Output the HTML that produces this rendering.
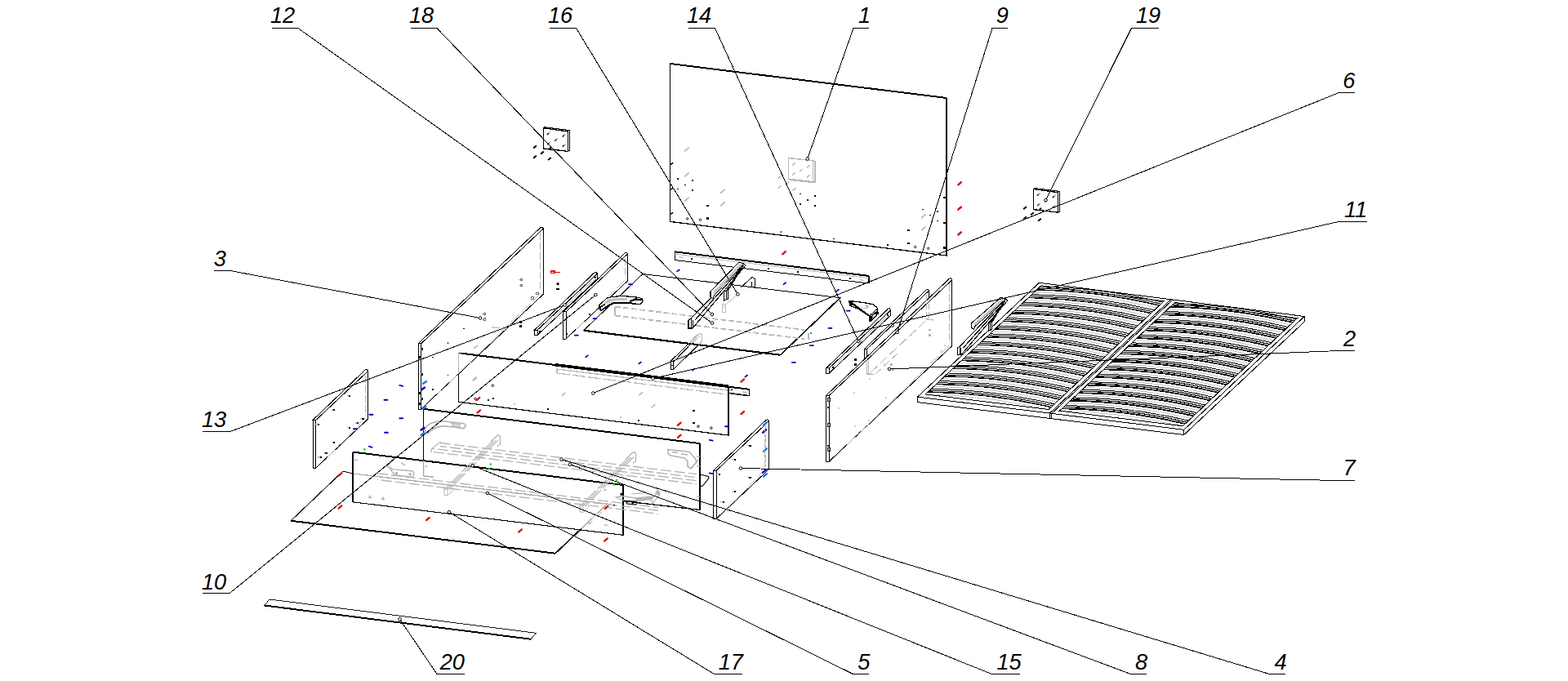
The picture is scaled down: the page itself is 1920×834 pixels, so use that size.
<!DOCTYPE html>
<html><head><meta charset="utf-8"><title>Exploded view</title>
<style>
html,body{margin:0;padding:0;background:#fff;}
body{width:1920px;height:834px;overflow:hidden;font-family:"Liberation Sans",sans-serif;}
svg{display:block;}
.lb{font-family:"Liberation Sans",sans-serif;font-style:italic;font-size:27.2px;fill:#000;}
</style></head><body>
<svg width="1920" height="834" viewBox="0 0 1920 834" shape-rendering="crispEdges">
<rect width="1920" height="834" fill="#fff"/>
<path d="M820.5 78 L1159.2 120 L1159.2 313 L820.5 271.4 Z" stroke="#000" stroke-width="1" fill="none" />
<line x1="820.5" y1="78" x2="1159.2" y2="120" stroke="#000" stroke-width="2.0" />
<line x1="1159.2" y1="120" x2="1159.2" y2="313" stroke="#000" stroke-width="2.0" />
<line x1="820.5" y1="271.4" x2="1159.2" y2="313" stroke="#000" stroke-width="1.3" />
<line x1="820.5" y1="78" x2="820.5" y2="271.4" stroke="#000" stroke-width="1.5" />
<path d="M965.5 193.5 L995.5 196.8 L995.5 222.6 L965.5 219.3 Z" stroke="#b8b8b8" stroke-width="1.5" fill="none" />
<path d="M995.5 196.8 L998 197.4 L998 223.4 L995.5 222.6 M965.5 219.3 L968 220.6 L998 223.9" stroke="#b8b8b8" stroke-width="1.2" fill="none" />
<line x1="970.6" y1="201.99" x2="973.2" y2="199.81" stroke="#b8b8b8" stroke-width="1.6" stroke-linecap="round" shape-rendering="geometricPrecision"/>
<line x1="988.6" y1="204.89" x2="991.2" y2="202.71" stroke="#b8b8b8" stroke-width="1.6" stroke-linecap="round" shape-rendering="geometricPrecision"/>
<line x1="979.5" y1="209.69" x2="982.1" y2="207.51" stroke="#b8b8b8" stroke-width="1.6" stroke-linecap="round" shape-rendering="geometricPrecision"/>
<line x1="970.6" y1="213.99" x2="973.2" y2="211.81" stroke="#b8b8b8" stroke-width="1.6" stroke-linecap="round" shape-rendering="geometricPrecision"/>
<line x1="988.6" y1="216.89" x2="991.2" y2="214.71" stroke="#b8b8b8" stroke-width="1.6" stroke-linecap="round" shape-rendering="geometricPrecision"/>
<line x1="838.6" y1="184.93" x2="843.2" y2="181.07" stroke="#b8b8b8" stroke-width="1.8" stroke-linecap="round" shape-rendering="geometricPrecision"/>
<line x1="838.6" y1="215.83" x2="843.2" y2="211.97" stroke="#b8b8b8" stroke-width="1.8" stroke-linecap="round" shape-rendering="geometricPrecision"/>
<line x1="838.6" y1="246.03" x2="843.2" y2="242.17" stroke="#b8b8b8" stroke-width="1.8" stroke-linecap="round" shape-rendering="geometricPrecision"/>
<line x1="882.5" y1="236.23" x2="887.1" y2="232.37" stroke="#b8b8b8" stroke-width="1.8" stroke-linecap="round" shape-rendering="geometricPrecision"/>
<line x1="882.5" y1="251.83" x2="887.1" y2="247.97" stroke="#b8b8b8" stroke-width="1.8" stroke-linecap="round" shape-rendering="geometricPrecision"/>
<line x1="1128.5" y1="266.63" x2="1133.1" y2="262.77" stroke="#b8b8b8" stroke-width="1.8" stroke-linecap="round" shape-rendering="geometricPrecision"/>
<line x1="1128.5" y1="281.83" x2="1133.1" y2="277.97" stroke="#b8b8b8" stroke-width="1.8" stroke-linecap="round" shape-rendering="geometricPrecision"/>
<line x1="953.07" y1="218.49" x2="956.13" y2="215.91" stroke="#b8b8b8" stroke-width="1.5" stroke-linecap="round" shape-rendering="geometricPrecision"/>
<line x1="953.07" y1="230.29" x2="956.13" y2="227.71" stroke="#b8b8b8" stroke-width="1.5" stroke-linecap="round" shape-rendering="geometricPrecision"/>
<line x1="962.47" y1="225.69" x2="965.53" y2="223.11" stroke="#b8b8b8" stroke-width="1.5" stroke-linecap="round" shape-rendering="geometricPrecision"/>
<line x1="971.07" y1="233.19" x2="974.13" y2="230.61" stroke="#b8b8b8" stroke-width="1.5" stroke-linecap="round" shape-rendering="geometricPrecision"/>
<rect x="828.7" y="217.7" width="2.6" height="2.4" fill="#000"/>
<rect x="865.3" y="250.5" width="2.6" height="2.4" fill="#000"/>
<rect x="865.3" y="266.2" width="2.6" height="2.4" fill="#000"/>
<rect x="1110.9" y="280.8" width="2.6" height="2.4" fill="#000"/>
<rect x="1110.9" y="296.6" width="2.6" height="2.4" fill="#000"/>
<rect x="846.9" y="220.3" width="1.8" height="1.6" fill="#000"/>
<rect x="837.9" y="225.6" width="1.8" height="1.6" fill="#000"/>
<rect x="829" y="230.6" width="1.8" height="1.6" fill="#000"/>
<rect x="846.9" y="232.2" width="1.8" height="1.6" fill="#000"/>
<rect x="978.9" y="236.8" width="1.8" height="1.6" fill="#000"/>
<rect x="988" y="244" width="1.8" height="1.6" fill="#000"/>
<rect x="978.9" y="249.1" width="1.8" height="1.6" fill="#000"/>
<rect x="997.3" y="239.3" width="1.8" height="1.6" fill="#000"/>
<rect x="997.3" y="251.2" width="1.8" height="1.6" fill="#000"/>
<rect x="955.6" y="283.3" width="1.8" height="1.6" fill="#000"/>
<rect x="1129.2" y="255.6" width="1.8" height="1.6" fill="#000"/>
<rect x="1146.9" y="257.9" width="1.8" height="1.6" fill="#000"/>
<rect x="1137.9" y="262.5" width="1.8" height="1.6" fill="#000"/>
<rect x="1146.9" y="269.7" width="1.8" height="1.6" fill="#000"/>
<rect x="1086" y="298.9" width="1.8" height="1.6" fill="#000"/>
<rect x="1020.1" y="291.7" width="1.8" height="1.6" fill="#000"/>
<line x1="821.1" y1="201.25" x2="823.7" y2="199.75" stroke="#000" stroke-width="1.6" stroke-linecap="round" shape-rendering="geometricPrecision"/>
<line x1="821.1" y1="232.15" x2="823.7" y2="230.65" stroke="#000" stroke-width="1.6" stroke-linecap="round" shape-rendering="geometricPrecision"/>
<line x1="821.1" y1="262.15" x2="823.7" y2="260.65" stroke="#000" stroke-width="1.6" stroke-linecap="round" shape-rendering="geometricPrecision"/>
<rect x="1155.3" y="241" width="2.6" height="2.4" fill="#000"/>
<rect x="1155.3" y="271.5" width="2.6" height="2.4" fill="#000"/>
<rect x="1155.3" y="302.1" width="2.6" height="2.4" fill="#000"/>
<circle cx="841.7" cy="267.8" r="1.2" stroke="#000" stroke-width="0.9" fill="#fff" shape-rendering="geometricPrecision"/>
<circle cx="857.5" cy="269.3" r="1.2" stroke="#000" stroke-width="0.9" fill="#fff" shape-rendering="geometricPrecision"/>
<circle cx="1120.7" cy="302.4" r="1.2" stroke="#000" stroke-width="0.9" fill="#fff" shape-rendering="geometricPrecision"/>
<circle cx="1136.7" cy="304.3" r="1.2" stroke="#000" stroke-width="0.9" fill="#fff" shape-rendering="geometricPrecision"/>
<circle cx="892" cy="274.7" r="0.7" fill="#b8b8b8" shape-rendering="geometricPrecision"/>
<line x1="1173.32" y1="226.31" x2="1176.88" y2="223.09" stroke="#e00000" stroke-width="2.4" stroke-linecap="round" shape-rendering="geometricPrecision"/>
<line x1="1173.32" y1="256.71" x2="1176.88" y2="253.49" stroke="#e00000" stroke-width="2.4" stroke-linecap="round" shape-rendering="geometricPrecision"/>
<line x1="1173.32" y1="287.51" x2="1176.88" y2="284.29" stroke="#e00000" stroke-width="2.4" stroke-linecap="round" shape-rendering="geometricPrecision"/>
<line x1="958.22" y1="311.31" x2="961.78" y2="308.09" stroke="#e00000" stroke-width="2.4" stroke-linecap="round" shape-rendering="geometricPrecision"/>
<path d="M665.4 156.8 L695.5 161 L695.5 185.4 L665.4 182 Z" stroke="#000" stroke-width="1.3" fill="none" />
<path d="M666.2 155.7 L697.6 159.7 L697.6 184.1 L695.5 185.4" stroke="#000" stroke-width="1.1" fill="none" />
<line x1="665.4" y1="156.8" x2="666.2" y2="155.7" stroke="#000" stroke-width="1" />
<line x1="671.28" y1="163.67" x2="673.12" y2="162.13" stroke="#aaa" stroke-width="1.5" stroke-linecap="round" shape-rendering="geometricPrecision"/>
<line x1="670.19" y1="164.61" x2="671.41" y2="163.59" stroke="#222" stroke-width="1.5" stroke-linecap="round" shape-rendering="geometricPrecision"/>
<line x1="690.18" y1="166.17" x2="692.02" y2="164.63" stroke="#aaa" stroke-width="1.5" stroke-linecap="round" shape-rendering="geometricPrecision"/>
<line x1="689.09" y1="167.11" x2="690.31" y2="166.09" stroke="#222" stroke-width="1.5" stroke-linecap="round" shape-rendering="geometricPrecision"/>
<line x1="680.78" y1="171.27" x2="682.62" y2="169.73" stroke="#aaa" stroke-width="1.5" stroke-linecap="round" shape-rendering="geometricPrecision"/>
<line x1="679.69" y1="172.21" x2="680.91" y2="171.19" stroke="#222" stroke-width="1.5" stroke-linecap="round" shape-rendering="geometricPrecision"/>
<line x1="671.68" y1="175.87" x2="673.52" y2="174.33" stroke="#aaa" stroke-width="1.5" stroke-linecap="round" shape-rendering="geometricPrecision"/>
<line x1="670.59" y1="176.81" x2="671.81" y2="175.79" stroke="#222" stroke-width="1.5" stroke-linecap="round" shape-rendering="geometricPrecision"/>
<line x1="690.18" y1="178.37" x2="692.02" y2="176.83" stroke="#aaa" stroke-width="1.5" stroke-linecap="round" shape-rendering="geometricPrecision"/>
<line x1="689.09" y1="179.31" x2="690.31" y2="178.29" stroke="#222" stroke-width="1.5" stroke-linecap="round" shape-rendering="geometricPrecision"/>
<line x1="653.74" y1="180.89" x2="656.26" y2="178.91" stroke="#000" stroke-width="2.0" stroke-linecap="round" shape-rendering="geometricPrecision"/>
<line x1="662.64" y1="188.09" x2="665.16" y2="186.11" stroke="#000" stroke-width="2.0" stroke-linecap="round" shape-rendering="geometricPrecision"/>
<line x1="653.74" y1="193.09" x2="656.26" y2="191.11" stroke="#000" stroke-width="2.0" stroke-linecap="round" shape-rendering="geometricPrecision"/>
<line x1="671.64" y1="195.49" x2="674.16" y2="193.51" stroke="#000" stroke-width="2.0" stroke-linecap="round" shape-rendering="geometricPrecision"/>
<line x1="671.94" y1="182.59" x2="674.46" y2="180.61" stroke="#000" stroke-width="2.0" stroke-linecap="round" shape-rendering="geometricPrecision"/>
<line x1="667.4" y1="181" x2="693.4" y2="184" stroke="#bbb" stroke-width="0.8" stroke-dasharray="6 3"/>
<path d="M1265.5 231.5 L1295.6 235.7 L1295.6 260.1 L1265.5 256.7 Z" stroke="#000" stroke-width="1.3" fill="none" />
<path d="M1266.3 230.4 L1297.7 234.4 L1297.7 258.8 L1295.6 260.1" stroke="#000" stroke-width="1.1" fill="none" />
<line x1="1265.5" y1="231.5" x2="1266.3" y2="230.4" stroke="#000" stroke-width="1" />
<line x1="1271.38" y1="238.37" x2="1273.22" y2="236.83" stroke="#aaa" stroke-width="1.5" stroke-linecap="round" shape-rendering="geometricPrecision"/>
<line x1="1270.29" y1="239.31" x2="1271.51" y2="238.29" stroke="#222" stroke-width="1.5" stroke-linecap="round" shape-rendering="geometricPrecision"/>
<line x1="1290.28" y1="240.87" x2="1292.12" y2="239.33" stroke="#aaa" stroke-width="1.5" stroke-linecap="round" shape-rendering="geometricPrecision"/>
<line x1="1289.19" y1="241.81" x2="1290.41" y2="240.79" stroke="#222" stroke-width="1.5" stroke-linecap="round" shape-rendering="geometricPrecision"/>
<line x1="1280.88" y1="245.97" x2="1282.72" y2="244.43" stroke="#aaa" stroke-width="1.5" stroke-linecap="round" shape-rendering="geometricPrecision"/>
<line x1="1279.79" y1="246.91" x2="1281.01" y2="245.89" stroke="#222" stroke-width="1.5" stroke-linecap="round" shape-rendering="geometricPrecision"/>
<line x1="1271.78" y1="250.57" x2="1273.62" y2="249.03" stroke="#aaa" stroke-width="1.5" stroke-linecap="round" shape-rendering="geometricPrecision"/>
<line x1="1270.69" y1="251.51" x2="1271.91" y2="250.49" stroke="#222" stroke-width="1.5" stroke-linecap="round" shape-rendering="geometricPrecision"/>
<line x1="1290.28" y1="253.07" x2="1292.12" y2="251.53" stroke="#aaa" stroke-width="1.5" stroke-linecap="round" shape-rendering="geometricPrecision"/>
<line x1="1289.19" y1="254.01" x2="1290.41" y2="252.99" stroke="#222" stroke-width="1.5" stroke-linecap="round" shape-rendering="geometricPrecision"/>
<line x1="1253.84" y1="255.59" x2="1256.36" y2="253.61" stroke="#000" stroke-width="2.0" stroke-linecap="round" shape-rendering="geometricPrecision"/>
<line x1="1262.74" y1="262.79" x2="1265.26" y2="260.81" stroke="#000" stroke-width="2.0" stroke-linecap="round" shape-rendering="geometricPrecision"/>
<line x1="1253.84" y1="267.79" x2="1256.36" y2="265.81" stroke="#000" stroke-width="2.0" stroke-linecap="round" shape-rendering="geometricPrecision"/>
<line x1="1271.74" y1="270.19" x2="1274.26" y2="268.21" stroke="#000" stroke-width="2.0" stroke-linecap="round" shape-rendering="geometricPrecision"/>
<line x1="1272.04" y1="257.29" x2="1274.56" y2="255.31" stroke="#000" stroke-width="2.0" stroke-linecap="round" shape-rendering="geometricPrecision"/>
<line x1="1267.5" y1="255.7" x2="1293.5" y2="258.7" stroke="#bbb" stroke-width="0.8" stroke-dasharray="6 3"/>
<path d="M826.25 308 L1063.75 337.6 L1063.75 347 L826.25 318.5 Z" stroke="#000" stroke-width="1" fill="#fff" />
<line x1="826.25" y1="308.3" x2="1063.75" y2="337.9" stroke="#000" stroke-width="2.0" />
<line x1="1063.75" y1="337.6" x2="1063.75" y2="347" stroke="#000" stroke-width="1.6" />
<line x1="826.25" y1="311" x2="1063.75" y2="340.6" stroke="#a8a8a8" stroke-width="0.8" />
<rect x="846.2" y="316.29" width="1.7" height="1.6" fill="#000"/>
<rect x="940.2" y="328" width="1.7" height="1.6" fill="#000"/>
<rect x="976.2" y="332.48" width="1.7" height="1.6" fill="#000"/>
<rect x="1040.2" y="340.46" width="1.7" height="1.6" fill="#000"/>
<line x1="832.03" y1="314.65" x2="835.97" y2="315.35" stroke="#b8b8b8" stroke-width="1.2" stroke-linecap="round" shape-rendering="geometricPrecision"/>
<line x1="1053.03" y1="342.65" x2="1056.97" y2="343.35" stroke="#b8b8b8" stroke-width="1.2" stroke-linecap="round" shape-rendering="geometricPrecision"/>
<path d="M786.9 335.5 L1028.75 364.75 L955.5 434.75 L714.7 404.7 Z" stroke="#000" stroke-width="1" fill="none" />
<line x1="714.7" y1="404.7" x2="955.5" y2="434.75" stroke="#000" stroke-width="2.2" />
<line x1="1028.75" y1="364.75" x2="955.5" y2="434.75" stroke="#000" stroke-width="1.6" />
<line x1="753" y1="375.5" x2="985" y2="404" stroke="#b8b8b8" stroke-width="1.7" stroke-dasharray="7 3"/>
<line x1="753" y1="386.5" x2="985" y2="415" stroke="#b8b8b8" stroke-width="1.7" stroke-dasharray="7 3"/>
<line x1="753" y1="375.5" x2="753" y2="386.5" stroke="#b8b8b8" stroke-width="1.7" />
<line x1="990" y1="408" x2="990" y2="416" stroke="#b8b8b8" stroke-width="1.2" />
<path d="M665.2 280.2 L665.2 360.4 L515.6 501.02 L515.6 420.82 Z" stroke="#000" stroke-width="1.0" fill="#fff" />
<path d="M665.2 280.2 L663.86 278.05 L662.21 278.35 L512 420.82 L515.6 420.82 Z" stroke="#000" stroke-width="1.0" fill="#fff" />
<path d="M512 420.82 L512 501.42 L515.6 501.02 L515.6 420.82 Z" stroke="#000" stroke-width="1.0" fill="#fff" />
<line x1="661.8" y1="285.2" x2="661.8" y2="356.4" stroke="#b8b8b8" stroke-width="1" stroke-dasharray="9 3"/>
<line x1="661.7" y1="359.4" x2="521.6" y2="496.52" stroke="#b8b8b8" stroke-width="0.9" stroke-dasharray="14 4"/>
<rect x="637.4" y="341.4" width="2.4" height="2.4" fill="#fff" stroke="#333" stroke-width="0.7"/>
<rect x="635.2" y="342" width="2" height="1.2" fill="#bbb"/>
<rect x="637.4" y="348.2" width="2.4" height="2.4" fill="#fff" stroke="#333" stroke-width="0.7"/>
<rect x="635.2" y="348.8" width="2" height="1.2" fill="#bbb"/>
<rect x="656.8" y="358.4" width="2.4" height="2.4" fill="#fff" stroke="#333" stroke-width="0.7"/>
<rect x="654.6" y="359" width="2" height="1.2" fill="#bbb"/>
<rect x="650.7" y="363.9" width="2.4" height="2.4" fill="#fff" stroke="#333" stroke-width="0.7"/>
<rect x="648.5" y="364.5" width="2" height="1.2" fill="#bbb"/>
<rect x="592.2" y="383.4" width="2.4" height="2.4" fill="#fff" stroke="#333" stroke-width="0.7"/>
<rect x="590" y="384" width="2" height="1.2" fill="#bbb"/>
<rect x="592.2" y="389.9" width="2.4" height="2.4" fill="#fff" stroke="#333" stroke-width="0.7"/>
<rect x="590" y="390.5" width="2" height="1.2" fill="#bbb"/>
<rect x="566.9" y="401.6" width="1.7" height="1.6" fill="#000"/>
<rect x="547.5" y="418.9" width="1.7" height="1.6" fill="#000"/>
<rect x="529.4" y="436.8" width="1.7" height="1.6" fill="#000"/>
<rect x="547.5" y="458.6" width="1.7" height="1.6" fill="#000"/>
<rect x="529.4" y="476" width="1.7" height="1.6" fill="#000"/>
<rect x="516" y="426.3" width="2.4" height="3" fill="#000"/>
<rect x="513.6" y="426.8" width="2.4" height="2.2" fill="#bbb"/>
<rect x="516" y="456.5" width="2.4" height="3" fill="#000"/>
<rect x="513.6" y="457" width="2.4" height="2.2" fill="#bbb"/>
<rect x="516" y="486.5" width="2.4" height="3" fill="#000"/>
<rect x="513.6" y="487" width="2.4" height="2.2" fill="#bbb"/>
<rect x="512.6" y="435.5" width="3" height="3" fill="#000"/>
<rect x="512.6" y="480.0" width="3" height="3" fill="#000"/>
<rect x="512.6" y="493.0" width="3" height="3" fill="#000"/>
<line x1="602.51" y1="401.06" x2="611.49" y2="401.54" stroke="#c0c0c0" stroke-width="1.6" stroke-linecap="round" shape-rendering="geometricPrecision"/>
<line x1="580.55" y1="426.23" x2="584.65" y2="423.37" stroke="#b8b8b8" stroke-width="1.6" stroke-linecap="round" shape-rendering="geometricPrecision"/>
<line x1="579.58" y1="466.11" x2="583.42" y2="462.89" stroke="#b8b8b8" stroke-width="1.6" stroke-linecap="round" shape-rendering="geometricPrecision"/>
<path d="M731.4 335.2 L731.4 341.4 L658.1 410.3 L658.1 404.1 Z" stroke="#000" stroke-width="1.0" fill="#fff" />
<path d="M731.4 335.2 L730.06 333.05 L728.41 333.35 L654.5 404.1 L658.1 404.1 Z" stroke="#000" stroke-width="1.0" fill="#fff" />
<path d="M654.5 404.1 L654.5 410.7 L658.1 410.3 L658.1 404.1 Z" stroke="#000" stroke-width="1.0" fill="#fff" />
<line x1="725.4" y1="343.94" x2="663.1" y2="402.5" stroke="#a8a8a8" stroke-width="0.9" stroke-dasharray="12 5"/>
<rect x="728.2" y="339.2" width="1.7" height="1.6" fill="#000"/>
<rect x="660.2" y="405.2" width="1.7" height="1.6" fill="#000"/>
<path d="M768.5 311 L768.5 344 L693 414.97 L693 381.97 Z" stroke="#000" stroke-width="1.0" fill="#fff" />
<path d="M768.5 311 L767.3 309.09 L765.84 309.35 L689.8 381.97 L693 381.97 Z" stroke="#000" stroke-width="1.0" fill="#fff" />
<path d="M689.8 381.97 L689.8 415.37 L693 414.97 L693 381.97 Z" stroke="#000" stroke-width="1.0" fill="#fff" />
<line x1="765.1" y1="316" x2="765.1" y2="340" stroke="#b8b8b8" stroke-width="1" stroke-dasharray="9 3"/>
<line x1="765" y1="343" x2="699" y2="410.47" stroke="#b8b8b8" stroke-width="0.9" stroke-dasharray="14 4"/>
<rect x="693.2" y="388.2" width="1.7" height="1.6" fill="#000"/>
<rect x="721.2" y="384.2" width="1.7" height="1.6" fill="#000"/>
<rect x="693.2" y="408.2" width="1.7" height="1.6" fill="#000"/>
<path d="M733.3 374.2 L743.3 364.9 L752 363.2 L762.8 362.6 L774 363.4 L781.7 364.4 L786.3 365.6 L787 368 L786.6 370.3 L784.4 372.3 L779 372.3 L769.3 370.7 L760 370.6 L750.9 371.4 L744 374.8 L735.8 380.2 Z" stroke="#000" stroke-width="1.2" fill="#fff" />
<path d="M744 366.5 L756 364.5 L768 365 L768 367.5 L752 368.5 L741 372.5 L738 373.5 Z" stroke="none" stroke-width="0" fill="#c4c4c4" />
<path d="M735.8 380.2 L744 374.8 L750.9 371.4 L760 370.6 L769.3 370.7 L779 372.3" stroke="#000" stroke-width="2.0" fill="none" />
<path d="M771 369 L778 366.5 L786 367" stroke="#000" stroke-width="2.2" fill="none" />
<path d="M733.3 374.2 L735.8 380.2" stroke="#000" stroke-width="2.2" fill="none" />
<path d="M735 376.3 L741 372.3" stroke="#000" stroke-width="1.6" fill="none" />
<path d="M843 392 L846 390 L911 323 L913 325 L848 402 L843 402 Z" stroke="#000" stroke-width="1.1" fill="#fff" />
<line x1="846" y1="390" x2="846" y2="401" stroke="#000" stroke-width="1" />
<line x1="848" y1="392" x2="848" y2="402" stroke="#000" stroke-width="1" />
<path d="M870 357 L905 321 L911 323 L875 361 L873 365.5 L870 364 Z" stroke="#000" stroke-width="1.1" fill="#fff" />
<path d="M873 357.5 L906 322.5 L910 323.5 L875.5 360.5 Z" stroke="none" stroke-width="0" fill="#cfcfcf" />
<line x1="873" y1="359" x2="909" y2="322.5" stroke="#a8a8a8" stroke-width="0.9" />
<line x1="910" y1="325" x2="890.5" y2="357" stroke="#000" stroke-width="1.5" />
<line x1="907" y1="328" x2="887.5" y2="359" stroke="#000" stroke-width="1.1" />
<path d="M886.5 357 L891.5 355 L891.5 366 L886.5 368 Z" stroke="#000" stroke-width="1.2" fill="#fff" />
<line x1="889" y1="356" x2="889" y2="367" stroke="#000" stroke-width="1" />
<line x1="851" y1="392" x2="908" y2="328" stroke="#000" stroke-width="1.2" />
<path d="M907 352 L921 339.5 L924 341 L924 351 L920 351 L920 345" stroke="#000" stroke-width="1.0" fill="none" />
<path d="M884 352 L893 343 M881 361 L896 347 M884 378 L905 358" stroke="#b8b8b8" stroke-width="0.9" fill="none" />
<path d="M884 372 L884 382 L888 383 L888 373 Z" stroke="#b8b8b8" stroke-width="0.9" fill="none" />
<path d="M1040.1 369.1 L1045.8 369.1 L1055 370.3 L1063 371.5 L1069.3 373 L1073.6 376.3 L1074.8 378.2 L1074.8 383 L1073.6 386 L1065.5 393.6 L1064.5 392.6 L1064.5 386.9 L1050.1 377.7 L1040.3 374.4 Z" stroke="#000" stroke-width="1.3" fill="#fff" />
<line x1="1042.5" y1="370.6" x2="1064.8" y2="387.2" stroke="#000" stroke-width="2.0" />
<line x1="1065" y1="386.5" x2="1073.8" y2="378.6" stroke="#000" stroke-width="1.0" />
<line x1="1066" y1="388.3" x2="1074.2" y2="380.8" stroke="#000" stroke-width="1.0" />
<rect x="1071" y="382" width="5" height="3" fill="#000"/>
<path d="M1064.5 387 L1068.5 388.5 L1065.3 393.4 Z" stroke="#000" stroke-width="1" fill="#000" />
<path d="M1041.5 370.3 L1046.5 373.5 L1041.5 373.5 Z" stroke="#000" stroke-width="1" fill="#000" />
<circle cx="1061.5" cy="375" r="1.9" fill="#bbb" shape-rendering="geometricPrecision"/>
<path d="M1052 375.5 Q1060 380 1064 376" stroke="#bbb" stroke-width="0.9" fill="none" />
<path d="M1090.6 380 L1090.6 386.2 L1015.1 457.17 L1015.1 450.97 Z" stroke="#000" stroke-width="1.0" fill="#fff" />
<path d="M1090.6 380 L1089.26 377.85 L1087.61 378.15 L1011.5 450.97 L1015.1 450.97 Z" stroke="#000" stroke-width="1.0" fill="#fff" />
<path d="M1011.5 450.97 L1011.5 457.57 L1015.1 457.17 L1015.1 450.97 Z" stroke="#000" stroke-width="1.0" fill="#fff" />
<line x1="1084.6" y1="388.74" x2="1020.1" y2="449.37" stroke="#a8a8a8" stroke-width="0.9" stroke-dasharray="12 5"/>
<rect x="1086.2" y="385.2" width="1.7" height="1.6" fill="#000"/>
<rect x="1019.2" y="449.2" width="1.7" height="1.6" fill="#000"/>
<rect x="1045.5" y="438.5" width="3.6" height="3" fill="#000"/>
<rect x="1045.5" y="445" width="3.6" height="3" fill="#000"/>
<path d="M1137.5 356 L1137.5 389 L1061.5 460.44 L1061.5 427.44 Z" stroke="#000" stroke-width="1.0" fill="#fff" />
<path d="M1137.5 356 L1136.3 354.09 L1134.84 354.35 L1058.3 427.44 L1061.5 427.44 Z" stroke="#000" stroke-width="1.0" fill="#fff" />
<path d="M1058.3 427.44 L1058.3 460.84 L1061.5 460.44 L1061.5 427.44 Z" stroke="#000" stroke-width="1.0" fill="#fff" />
<line x1="1134.1" y1="361" x2="1134.1" y2="385" stroke="#b8b8b8" stroke-width="1" stroke-dasharray="9 3"/>
<line x1="1134" y1="388" x2="1067.5" y2="455.94" stroke="#b8b8b8" stroke-width="0.9" stroke-dasharray="14 4"/>
<circle cx="1063" cy="446" r="0.7" fill="#a8a8a8" shape-rendering="geometricPrecision"/>
<path d="M1165.6 343 L1165.6 423.8 L1015.2 565.18 L1015.2 484.38 Z" stroke="#000" stroke-width="1.0" fill="#fff" />
<path d="M1165.6 343 L1164.26 340.85 L1162.61 341.15 L1011.6 484.38 L1015.2 484.38 Z" stroke="#000" stroke-width="1.0" fill="#fff" />
<path d="M1011.6 484.38 L1011.6 565.58 L1015.2 565.18 L1015.2 484.38 Z" stroke="#000" stroke-width="1.0" fill="#fff" />
<line x1="1162.2" y1="348" x2="1162.2" y2="419.8" stroke="#b8b8b8" stroke-width="1" stroke-dasharray="9 3"/>
<line x1="1162.1" y1="422.8" x2="1021.2" y2="560.68" stroke="#b8b8b8" stroke-width="0.9" stroke-dasharray="14 4"/>
<rect x="1136.5" y="402.7" width="3" height="2.6" fill="#b4b4b4"/>
<rect x="1136.5" y="409.2" width="3" height="2.6" fill="#b4b4b4"/>
<rect x="1089.5" y="445.2" width="3" height="2.6" fill="#b4b4b4"/>
<rect x="1091.5" y="451.7" width="3" height="2.6" fill="#b4b4b4"/>
<circle cx="1116" cy="410" r="0.9" fill="#b4b4b4" shape-rendering="geometricPrecision"/>
<circle cx="1152" cy="430" r="0.9" fill="#b4b4b4" shape-rendering="geometricPrecision"/>
<circle cx="1157" cy="423" r="0.9" fill="#b4b4b4" shape-rendering="geometricPrecision"/>
<circle cx="1083" cy="446" r="0.9" fill="#b4b4b4" shape-rendering="geometricPrecision"/>
<circle cx="1046" cy="481" r="0.9" fill="#b4b4b4" shape-rendering="geometricPrecision"/>
<circle cx="1047" cy="522" r="0.9" fill="#b4b4b4" shape-rendering="geometricPrecision"/>
<circle cx="1064" cy="515" r="0.9" fill="#b4b4b4" shape-rendering="geometricPrecision"/>
<circle cx="1027" cy="500" r="0.9" fill="#b4b4b4" shape-rendering="geometricPrecision"/>
<circle cx="1065" cy="464" r="0.9" fill="#b4b4b4" shape-rendering="geometricPrecision"/>
<circle cx="1085" cy="487" r="0.9" fill="#b4b4b4" shape-rendering="geometricPrecision"/>
<rect x="1013.2" y="487.5" width="3.6" height="4" fill="none" stroke="#000" stroke-width="0.9"/>
<rect x="1014" y="488.3" width="2" height="2.4" fill="#b4b4b4"/>
<rect x="1013.2" y="518.5" width="3.6" height="4" fill="none" stroke="#000" stroke-width="0.9"/>
<rect x="1014" y="519.3" width="2" height="2.4" fill="#b4b4b4"/>
<rect x="1013.2" y="548" width="3.6" height="4" fill="none" stroke="#000" stroke-width="0.9"/>
<rect x="1014" y="548.8" width="2" height="2.4" fill="#b4b4b4"/>
<rect x="1013.4" y="497.5" width="2.4" height="2" fill="#000"/>
<rect x="1013.4" y="545" width="2.4" height="2" fill="#000"/>
<line x1="1133" y1="390.5" x2="1143" y2="392" stroke="#b4b4b4" stroke-width="1.3" />
<line x1="1061.2" y1="440" x2="1061.2" y2="458" stroke="#b4b4b4" stroke-width="1.3" />
<line x1="1063.8" y1="441" x2="1063.8" y2="458" stroke="#b4b4b4" stroke-width="1.1" />
<line x1="1061.2" y1="458" x2="1070" y2="458.3" stroke="#b4b4b4" stroke-width="1.4" />
<line x1="1066" y1="456" x2="1137" y2="389.5" stroke="#b4b4b4" stroke-width="1.0" stroke-dasharray="12 4"/>
<line x1="1072" y1="458" x2="1100" y2="432" stroke="#b4b4b4" stroke-width="1.0" stroke-dasharray="9 5"/>
<line x1="1137.5" y1="372" x2="1137.5" y2="389" stroke="#b4b4b4" stroke-width="1.0" stroke-dasharray="7 3"/>
<line x1="1134.5" y1="360" x2="1134.5" y2="386" stroke="#b4b4b4" stroke-width="0.9" stroke-dasharray="8 3"/>
<path d="M821.2 442.4 L824.8 443.1 L824.8 452.5 L821.2 452.5 Z" stroke="#000" stroke-width="1.1" fill="#fff" />
<line x1="821.2" y1="442.4" x2="843.2" y2="420.9" stroke="#000" stroke-width="1" />
<line x1="824.8" y1="443.1" x2="846" y2="421.2" stroke="#000" stroke-width="1" />
<line x1="824.8" y1="452.2" x2="855.4" y2="422.3" stroke="#000" stroke-width="1" />
<line x1="822" y1="447.5" x2="824.5" y2="447.8" stroke="#000" stroke-width="1" />
<line x1="843.2" y1="420.9" x2="855.4" y2="409.4" stroke="#b8b8b8" stroke-width="1.2" />
<line x1="846" y1="421.2" x2="857.5" y2="410.5" stroke="#b8b8b8" stroke-width="1.0" />
<line x1="855.4" y1="422.3" x2="859.7" y2="418" stroke="#b8b8b8" stroke-width="1.2" />
<path d="M855.4 409.4 L858 408.6 L859.7 410.5 L859.7 418" stroke="#b8b8b8" stroke-width="1.3" fill="none" />
<line x1="849.14" y1="414.67" x2="852.86" y2="411.33" stroke="#b8b8b8" stroke-width="2.2" stroke-linecap="round" shape-rendering="geometricPrecision"/>
<line x1="829" y1="446" x2="848" y2="428" stroke="#b8b8b8" stroke-width="0.8" stroke-dasharray="8 4"/>
<path d="M1272.5 346.25 L1597.2 387.5 L1449.8 526.3 L1123.5 486.1 Z" stroke="#000" stroke-width="1" fill="#fff" />
<path d="M1123.5 486.1 L1449.8 526.3 L1449.8 532.5 L1123.5 492.6 Z" stroke="#000" stroke-width="1" fill="#fff" />
<path d="M1449.8 526.3 L1597.2 387.5 L1597.8 393.5 L1449.8 532.5 Z" stroke="#000" stroke-width="1" fill="#fff" />
<path d="M1273.55 351.15 Q1348.65 352.28 1423.75 370.21" stroke="#000" stroke-width="1.0" fill="none" />
<path d="M1271.47 353.1 Q1346.57 354.23 1421.67 372.16" stroke="#000" stroke-width="1.0" fill="none" />
<path d="M1269.45 354.99 Q1344.56 356.12 1419.67 374.04" stroke="#000" stroke-width="1.5" fill="none" />
<path d="M1266.25 358 Q1341.37 359.12 1416.48 377.04" stroke="#bbb" stroke-width="0.8" fill="none" />
<path d="M1263.3 360.77 Q1338.42 361.88 1413.55 379.8" stroke="#000" stroke-width="1.0" fill="none" />
<path d="M1261.22 362.72 Q1336.34 363.84 1411.47 381.75" stroke="#000" stroke-width="1.0" fill="none" />
<path d="M1259.2 364.61 Q1334.34 365.72 1409.47 383.63" stroke="#000" stroke-width="1.5" fill="none" />
<path d="M1256 367.62 Q1331.14 368.72 1406.28 386.62" stroke="#bbb" stroke-width="0.8" fill="none" />
<path d="M1253.05 370.39 Q1328.2 371.49 1403.35 389.38" stroke="#000" stroke-width="1.0" fill="none" />
<path d="M1250.97 372.34 Q1326.12 373.44 1401.27 391.33" stroke="#000" stroke-width="1.0" fill="none" />
<path d="M1248.96 374.23 Q1324.11 375.32 1399.27 393.22" stroke="#000" stroke-width="1.5" fill="none" />
<path d="M1245.75 377.24 Q1320.92 378.33 1396.09 396.21" stroke="#bbb" stroke-width="0.8" fill="none" />
<path d="M1242.8 380.01 Q1317.98 381.09 1393.15 398.97" stroke="#000" stroke-width="1.0" fill="none" />
<path d="M1240.72 381.97 Q1315.9 383.04 1391.08 400.92" stroke="#000" stroke-width="1.0" fill="none" />
<path d="M1238.71 383.85 Q1313.89 384.93 1389.08 402.8" stroke="#000" stroke-width="1.5" fill="none" />
<path d="M1235.5 386.86 Q1310.7 387.93 1385.89 405.8" stroke="#bbb" stroke-width="0.8" fill="none" />
<path d="M1232.55 389.63 Q1307.75 390.69 1382.95 408.56" stroke="#000" stroke-width="1.0" fill="none" />
<path d="M1230.47 391.59 Q1305.67 392.65 1380.88 410.51" stroke="#000" stroke-width="1.0" fill="none" />
<path d="M1228.46 393.47 Q1303.67 394.53 1378.88 412.39" stroke="#000" stroke-width="1.5" fill="none" />
<path d="M1225.25 396.48 Q1300.47 397.53 1375.69 415.39" stroke="#bbb" stroke-width="0.8" fill="none" />
<path d="M1222.3 399.25 Q1297.53 400.3 1372.75 418.14" stroke="#000" stroke-width="1.0" fill="none" />
<path d="M1220.22 401.21 Q1295.45 402.25 1370.68 420.1" stroke="#000" stroke-width="1.0" fill="none" />
<path d="M1218.21 403.09 Q1293.44 404.14 1368.68 421.98" stroke="#000" stroke-width="1.5" fill="none" />
<path d="M1215 406.1 Q1290.25 407.14 1365.49 424.97" stroke="#bbb" stroke-width="0.8" fill="none" />
<path d="M1212.05 408.87 Q1287.31 409.9 1362.56 427.73" stroke="#000" stroke-width="1.0" fill="none" />
<path d="M1209.97 410.83 Q1285.23 411.85 1360.48 429.68" stroke="#000" stroke-width="1.0" fill="none" />
<path d="M1207.96 412.71 Q1283.22 413.74 1358.48 431.56" stroke="#000" stroke-width="1.5" fill="none" />
<path d="M1204.76 415.72 Q1280.02 416.74 1355.29 434.56" stroke="#bbb" stroke-width="0.8" fill="none" />
<path d="M1201.81 418.49 Q1277.08 419.5 1352.36 437.32" stroke="#000" stroke-width="1.0" fill="none" />
<path d="M1199.72 420.45 Q1275 421.46 1350.28 439.27" stroke="#000" stroke-width="1.0" fill="none" />
<path d="M1197.71 422.33 Q1273 423.34 1348.28 441.15" stroke="#000" stroke-width="1.5" fill="none" />
<path d="M1194.51 425.34 Q1269.8 426.34 1345.09 444.15" stroke="#bbb" stroke-width="0.8" fill="none" />
<path d="M1191.56 428.11 Q1266.86 429.11 1342.16 446.91" stroke="#000" stroke-width="1.0" fill="none" />
<path d="M1189.47 430.07 Q1264.78 431.06 1340.08 448.86" stroke="#000" stroke-width="1.0" fill="none" />
<path d="M1187.46 431.96 Q1262.77 432.95 1338.08 450.74" stroke="#000" stroke-width="1.5" fill="none" />
<path d="M1184.26 434.96 Q1259.58 435.95 1334.9 453.73" stroke="#bbb" stroke-width="0.8" fill="none" />
<path d="M1181.31 437.73 Q1256.63 438.71 1331.96 456.49" stroke="#000" stroke-width="1.0" fill="none" />
<path d="M1179.22 439.69 Q1254.55 440.67 1329.89 458.44" stroke="#000" stroke-width="1.0" fill="none" />
<path d="M1177.21 441.58 Q1252.55 442.55 1327.88 460.33" stroke="#000" stroke-width="1.5" fill="none" />
<path d="M1174.01 444.58 Q1249.35 445.55 1324.7 463.32" stroke="#bbb" stroke-width="0.8" fill="none" />
<path d="M1171.06 447.35 Q1246.41 448.32 1321.76 466.08" stroke="#000" stroke-width="1.0" fill="none" />
<path d="M1168.97 449.31 Q1244.33 450.27 1319.69 468.03" stroke="#000" stroke-width="1.0" fill="none" />
<path d="M1166.96 451.2 Q1242.32 452.15 1317.69 469.91" stroke="#000" stroke-width="1.5" fill="none" />
<path d="M1163.76 454.2 Q1239.13 455.16 1314.5 472.91" stroke="#bbb" stroke-width="0.8" fill="none" />
<path d="M1160.81 456.97 Q1236.19 457.92 1311.56 475.67" stroke="#000" stroke-width="1.0" fill="none" />
<path d="M1158.72 458.93 Q1234.11 459.87 1309.49 477.62" stroke="#000" stroke-width="1.0" fill="none" />
<path d="M1156.71 460.82 Q1232.1 461.76 1307.49 479.5" stroke="#000" stroke-width="1.5" fill="none" />
<path d="M1153.51 463.82 Q1228.9 464.76 1304.3 482.5" stroke="#bbb" stroke-width="0.8" fill="none" />
<path d="M1150.56 466.59 Q1225.96 467.52 1301.37 485.25" stroke="#000" stroke-width="1.0" fill="none" />
<path d="M1148.47 468.55 Q1223.88 469.48 1299.29 487.21" stroke="#000" stroke-width="1.0" fill="none" />
<path d="M1146.46 470.44 Q1221.88 471.36 1297.29 489.09" stroke="#000" stroke-width="1.5" fill="none" />
<path d="M1143.26 473.44 Q1218.68 474.36 1294.1 492.08" stroke="#bbb" stroke-width="0.8" fill="none" />
<path d="M1140.31 476.21 Q1215.74 477.13 1291.17 494.84" stroke="#000" stroke-width="1.0" fill="none" />
<path d="M1138.22 478.17 Q1213.66 479.08 1289.09 496.79" stroke="#000" stroke-width="1.0" fill="none" />
<path d="M1136.21 480.06 Q1211.65 480.97 1287.09 498.67" stroke="#000" stroke-width="1.5" fill="none" />
<path d="M1133.01 483.06 Q1208.46 483.97 1283.9 501.67" stroke="#bbb" stroke-width="0.8" fill="none" />
<path d="M1437.06 371.9 Q1512.16 373.03 1587.26 390.96" stroke="#000" stroke-width="1.0" fill="none" />
<path d="M1434.99 373.85 Q1510.09 374.98 1585.19 392.91" stroke="#000" stroke-width="1.2" fill="none" />
<path d="M1432.91 375.8 Q1508.02 376.93 1583.13 394.85" stroke="#000" stroke-width="1.7" fill="none" />
<path d="M1429.8 378.73 Q1504.92 379.85 1580.03 397.77" stroke="#bbb" stroke-width="0.8" fill="none" />
<path d="M1426.87 381.48 Q1501.99 382.6 1577.11 400.51" stroke="#000" stroke-width="1.0" fill="none" />
<path d="M1424.79 383.43 Q1499.92 384.55 1575.05 402.46" stroke="#000" stroke-width="1.2" fill="none" />
<path d="M1422.72 385.38 Q1497.85 386.49 1572.99 404.4" stroke="#000" stroke-width="1.7" fill="none" />
<path d="M1419.61 388.31 Q1494.75 389.41 1569.89 407.32" stroke="#bbb" stroke-width="0.8" fill="none" />
<path d="M1416.67 391.07 Q1491.82 392.17 1566.97 410.06" stroke="#000" stroke-width="1.0" fill="none" />
<path d="M1414.6 393.02 Q1489.75 394.11 1564.91 412.01" stroke="#000" stroke-width="1.2" fill="none" />
<path d="M1412.52 394.97 Q1487.68 396.06 1562.84 413.95" stroke="#000" stroke-width="1.7" fill="none" />
<path d="M1409.41 397.89 Q1484.58 398.98 1559.75 416.87" stroke="#bbb" stroke-width="0.8" fill="none" />
<path d="M1406.48 400.65 Q1481.65 401.73 1556.83 419.62" stroke="#000" stroke-width="1.0" fill="none" />
<path d="M1404.41 402.6 Q1479.58 403.68 1554.76 421.56" stroke="#000" stroke-width="1.2" fill="none" />
<path d="M1402.33 404.55 Q1477.52 405.63 1552.7 423.5" stroke="#000" stroke-width="1.7" fill="none" />
<path d="M1399.22 407.48 Q1474.41 408.55 1549.6 426.42" stroke="#bbb" stroke-width="0.8" fill="none" />
<path d="M1396.29 410.24 Q1471.49 411.3 1546.69 429.17" stroke="#000" stroke-width="1.0" fill="none" />
<path d="M1394.21 412.19 Q1469.42 413.25 1544.62 431.11" stroke="#000" stroke-width="1.2" fill="none" />
<path d="M1392.14 414.14 Q1467.35 415.19 1542.56 433.05" stroke="#000" stroke-width="1.7" fill="none" />
<path d="M1389.03 417.06 Q1464.24 418.11 1539.46 435.97" stroke="#bbb" stroke-width="0.8" fill="none" />
<path d="M1386.09 419.82 Q1461.32 420.87 1536.54 438.72" stroke="#000" stroke-width="1.0" fill="none" />
<path d="M1384.02 421.77 Q1459.25 422.82 1534.48 440.66" stroke="#000" stroke-width="1.2" fill="none" />
<path d="M1381.94 423.72 Q1457.18 424.76 1532.41 442.6" stroke="#000" stroke-width="1.7" fill="none" />
<path d="M1378.83 426.65 Q1454.08 427.68 1529.32 445.52" stroke="#bbb" stroke-width="0.8" fill="none" />
<path d="M1375.9 429.4 Q1451.15 430.44 1526.4 448.27" stroke="#000" stroke-width="1.0" fill="none" />
<path d="M1373.82 431.35 Q1449.08 432.38 1524.34 450.21" stroke="#000" stroke-width="1.2" fill="none" />
<path d="M1371.75 433.3 Q1447.01 434.33 1522.27 452.15" stroke="#000" stroke-width="1.7" fill="none" />
<path d="M1368.64 436.23 Q1443.91 437.25 1519.18 455.07" stroke="#bbb" stroke-width="0.8" fill="none" />
<path d="M1365.7 438.99 Q1440.98 440 1516.26 457.82" stroke="#000" stroke-width="1.0" fill="none" />
<path d="M1363.63 440.94 Q1438.91 441.95 1514.19 459.76" stroke="#000" stroke-width="1.2" fill="none" />
<path d="M1361.56 442.89 Q1436.84 443.9 1512.13 461.7" stroke="#000" stroke-width="1.7" fill="none" />
<path d="M1358.44 445.81 Q1433.74 446.82 1509.03 464.62" stroke="#bbb" stroke-width="0.8" fill="none" />
<path d="M1355.51 448.57 Q1430.81 449.57 1506.11 467.37" stroke="#000" stroke-width="1.0" fill="none" />
<path d="M1353.44 450.52 Q1428.74 451.52 1504.05 469.31" stroke="#000" stroke-width="1.2" fill="none" />
<path d="M1351.36 452.47 Q1426.67 453.46 1501.99 471.26" stroke="#000" stroke-width="1.7" fill="none" />
<path d="M1348.25 455.4 Q1423.57 456.38 1498.89 474.17" stroke="#bbb" stroke-width="0.8" fill="none" />
<path d="M1345.32 458.16 Q1420.64 459.14 1495.97 476.92" stroke="#000" stroke-width="1.0" fill="none" />
<path d="M1343.24 460.11 Q1418.57 461.08 1493.91 478.86" stroke="#000" stroke-width="1.2" fill="none" />
<path d="M1341.17 462.06 Q1416.5 463.03 1491.84 480.81" stroke="#000" stroke-width="1.7" fill="none" />
<path d="M1338.06 464.98 Q1413.4 465.95 1488.75 483.72" stroke="#bbb" stroke-width="0.8" fill="none" />
<path d="M1335.12 467.74 Q1410.47 468.71 1485.83 486.47" stroke="#000" stroke-width="1.0" fill="none" />
<path d="M1333.05 469.69 Q1408.41 470.65 1483.76 488.41" stroke="#000" stroke-width="1.2" fill="none" />
<path d="M1330.97 471.64 Q1406.34 472.6 1481.7 490.36" stroke="#000" stroke-width="1.7" fill="none" />
<path d="M1327.86 474.57 Q1403.23 475.52 1478.6 493.27" stroke="#bbb" stroke-width="0.8" fill="none" />
<path d="M1324.93 477.32 Q1400.31 478.27 1475.68 496.02" stroke="#000" stroke-width="1.0" fill="none" />
<path d="M1322.85 479.27 Q1398.24 480.22 1473.62 497.96" stroke="#000" stroke-width="1.2" fill="none" />
<path d="M1320.78 481.23 Q1396.17 482.17 1471.56 499.91" stroke="#000" stroke-width="1.7" fill="none" />
<path d="M1317.67 484.15 Q1393.06 485.09 1468.46 502.82" stroke="#bbb" stroke-width="0.8" fill="none" />
<path d="M1314.73 486.91 Q1390.14 487.84 1465.54 505.57" stroke="#000" stroke-width="1.0" fill="none" />
<path d="M1312.66 488.86 Q1388.07 489.79 1463.48 507.51" stroke="#000" stroke-width="1.2" fill="none" />
<path d="M1310.59 490.81 Q1386 491.73 1461.41 509.46" stroke="#000" stroke-width="1.7" fill="none" />
<path d="M1307.47 493.73 Q1382.9 494.65 1458.32 512.37" stroke="#bbb" stroke-width="0.8" fill="none" />
<path d="M1304.54 496.49 Q1379.97 497.41 1455.4 515.12" stroke="#000" stroke-width="1.0" fill="none" />
<path d="M1302.47 498.44 Q1377.9 499.35 1453.33 517.07" stroke="#000" stroke-width="1.2" fill="none" />
<path d="M1300.39 500.39 Q1375.83 501.3 1451.27 519.01" stroke="#000" stroke-width="1.7" fill="none" />
<path d="M1297.28 503.32 Q1372.73 504.22 1448.17 521.92" stroke="#bbb" stroke-width="0.8" fill="none" />
<path d="M1275.04 349.75 L1425.23 368.82 L1284.11 501.47 L1133.22 482.87 Z" stroke="#000" stroke-width="1" fill="none" />
<path d="M1438.54 370.51 L1588.73 389.58 L1448.38 521.73 L1297.49 503.12 Z" stroke="#000" stroke-width="1" fill="none" />
<line x1="1433.71" y1="366.73" x2="1285.51" y2="506.06" stroke="#000" stroke-width="1" />
<line x1="1435.99" y1="367.02" x2="1287.79" y2="506.34" stroke="#000" stroke-width="1" />
<line x1="1287.79" y1="506.34" x2="1287.79" y2="512.64" stroke="#000" stroke-width="1" />
<line x1="1285.51" y1="506.06" x2="1285.51" y2="512.36" stroke="#000" stroke-width="1" />
<path d="M1172.5 426.04 L1175.11 424.3 L1231.66 366.14 L1233.66 368.14 L1176.85 434.74 L1172.5 434.74 Z" stroke="#000" stroke-width="1.1" fill="#fff" />
<line x1="1175.11" y1="424.3" x2="1175.11" y2="433.87" stroke="#000" stroke-width="1" />
<line x1="1176.85" y1="426.04" x2="1176.85" y2="434.74" stroke="#000" stroke-width="1" />
<path d="M1189.9 395.59 L1225.66 364.14 L1231.66 366.14 L1194.25 399.07 L1192.51 402.99 L1189.9 401.68 Z" stroke="#000" stroke-width="1.1" fill="#fff" />
<path d="M1192.51 396.03 L1226.66 365.64 L1230.66 366.64 L1194.69 398.64 Z" stroke="none" stroke-width="0" fill="#cfcfcf" />
<line x1="1192.51" y1="397.33" x2="1229.66" y2="365.64" stroke="#a8a8a8" stroke-width="0.9" />
<line x1="1230.66" y1="368.14" x2="1213.83" y2="395.59" stroke="#000" stroke-width="1.5" />
<line x1="1227.66" y1="371.14" x2="1211.21" y2="397.33" stroke="#000" stroke-width="1.1" />
<path d="M1210.35 395.59 L1214.69 393.85 L1214.69 403.42 L1210.35 405.16 Z" stroke="#000" stroke-width="1.2" fill="#fff" />
<line x1="1212.52" y1="394.72" x2="1212.52" y2="404.29" stroke="#000" stroke-width="1" />
<line x1="1179.46" y1="426.04" x2="1228.66" y2="371.14" stroke="#000" stroke-width="1.2" />
<path d="M561.5 432.3 L892.2 473.5 L892.2 533.1 L561.5 492.3 Z" stroke="#000" stroke-width="1" fill="none" />
<line x1="561.5" y1="432.3" x2="561.5" y2="458" stroke="#b0b0b0" stroke-width="1.7" />
<line x1="561.5" y1="458" x2="561.5" y2="492.3" stroke="#000" stroke-width="1.5" />
<line x1="565" y1="432.7" x2="892.2" y2="473.5" stroke="#000" stroke-width="2.0" />
<line x1="680" y1="446.8" x2="892.2" y2="473.2" stroke="#000" stroke-width="3.6" />
<path d="M892.2 473.4 L917.5 476.6 L917.5 484.6 L892.2 481.4 Z" stroke="#000" stroke-width="1.6" fill="#fff" />
<line x1="892.2" y1="473.6" x2="917.5" y2="476.8" stroke="#000" stroke-width="2.0" />
<line x1="895.13" y1="477.8" x2="896.87" y2="476.8" stroke="#000" stroke-width="1.3" stroke-linecap="round" shape-rendering="geometricPrecision"/>
<line x1="910.03" y1="480.15" x2="913.97" y2="480.85" stroke="#bbb" stroke-width="1.6" stroke-linecap="round" shape-rendering="geometricPrecision"/>
<line x1="892.2" y1="473.5" x2="892.2" y2="533.1" stroke="#000" stroke-width="1.7" />
<line x1="561.5" y1="492.3" x2="892.2" y2="533.1" stroke="#000" stroke-width="1.2" />
<line x1="682" y1="452" x2="891" y2="478" stroke="#b8b8b8" stroke-width="1.3" />
<line x1="682" y1="457" x2="890" y2="483" stroke="#b8b8b8" stroke-width="1.2" stroke-dasharray="16 3"/>
<line x1="682" y1="452" x2="682" y2="457" stroke="#b8b8b8" stroke-width="1.2" />
<rect x="848.4" y="502" width="2.2" height="2" fill="#000"/>
<rect x="848.4" y="517" width="2.2" height="2" fill="#000"/>
<rect x="780.9" y="513.75" width="2.2" height="2" fill="#000"/>
<rect x="670.15" y="500" width="2.2" height="2" fill="#000"/>
<rect x="597.15" y="488.75" width="2.2" height="2" fill="#000"/>
<rect x="602.9" y="486.75" width="2.2" height="2" fill="#000"/>
<circle cx="760" cy="511" r="0.9" fill="#aaa" shape-rendering="geometricPrecision"/>
<circle cx="630" cy="494.75" r="0.9" fill="#aaa" shape-rendering="geometricPrecision"/>
<line x1="579.33" y1="465.11" x2="583.17" y2="461.89" stroke="#b8b8b8" stroke-width="1.5" stroke-linecap="round" shape-rendering="geometricPrecision"/>
<line x1="688.08" y1="484.61" x2="691.92" y2="481.39" stroke="#b8b8b8" stroke-width="1.5" stroke-linecap="round" shape-rendering="geometricPrecision"/>
<line x1="782.58" y1="483.86" x2="786.42" y2="480.64" stroke="#b8b8b8" stroke-width="1.5" stroke-linecap="round" shape-rendering="geometricPrecision"/>
<line x1="798.08" y1="498.86" x2="801.92" y2="495.64" stroke="#b8b8b8" stroke-width="1.5" stroke-linecap="round" shape-rendering="geometricPrecision"/>
<circle cx="855" cy="522.2" r="1.3" stroke="#000" stroke-width="0.9" fill="#fff" shape-rendering="geometricPrecision"/>
<circle cx="870.9" cy="524.2" r="1.3" stroke="#000" stroke-width="0.9" fill="#fff" shape-rendering="geometricPrecision"/>
<circle cx="603.3" cy="472.2" r="1.3" stroke="#000" stroke-width="0.9" fill="#fff" shape-rendering="geometricPrecision"/>
<circle cx="582" cy="488.5" r="1.3" stroke="#000" stroke-width="0.9" fill="#fff" shape-rendering="geometricPrecision"/>
<line x1="518.2" y1="500.8" x2="857.2" y2="543.2" stroke="#000" stroke-width="2.0" />
<line x1="857.2" y1="543.2" x2="857.2" y2="624.5" stroke="#000" stroke-width="1.7" />
<line x1="518.2" y1="500.8" x2="518.2" y2="563.6" stroke="#000" stroke-width="1.2" />
<line x1="763" y1="613.6" x2="857.2" y2="624.5" stroke="#000" stroke-width="1.3" />
<path d="M450.6 454.5 L450.6 513.1 L386.8 573.07 L386.8 514.47 Z" stroke="#000" stroke-width="1.0" fill="#fff" />
<path d="M450.6 454.5 L449.22 452.29 L447.53 452.6 L383.1 514.47 L386.8 514.47 Z" stroke="#000" stroke-width="1.0" fill="#fff" />
<path d="M383.1 514.47 L383.1 573.47 L386.8 573.07 L386.8 514.47 Z" stroke="#000" stroke-width="1.0" fill="#fff" />
<line x1="447.2" y1="459.5" x2="447.2" y2="509.1" stroke="#b8b8b8" stroke-width="1" stroke-dasharray="9 3"/>
<line x1="447.1" y1="512.1" x2="392.8" y2="568.57" stroke="#b8b8b8" stroke-width="0.9" stroke-dasharray="14 4"/>
<rect x="426.9" y="483.5" width="2.2" height="2" fill="#000"/>
<rect x="424.5" y="483.7" width="2.4" height="1.4" fill="#b4b4b4"/>
<rect x="408.1" y="501.1" width="2.2" height="2" fill="#000"/>
<rect x="405.7" y="501.3" width="2.4" height="1.4" fill="#b4b4b4"/>
<rect x="443.3" y="511.5" width="2.2" height="2" fill="#000"/>
<rect x="440.9" y="511.7" width="2.4" height="1.4" fill="#b4b4b4"/>
<rect x="437" y="517.1" width="2.2" height="2" fill="#000"/>
<rect x="434.6" y="517.3" width="2.4" height="1.4" fill="#b4b4b4"/>
<rect x="388.6" y="518.8" width="2.2" height="2" fill="#000"/>
<rect x="386.2" y="519" width="2.4" height="1.4" fill="#b4b4b4"/>
<rect x="426.9" y="522.6" width="2.2" height="2" fill="#000"/>
<rect x="424.5" y="522.8" width="2.4" height="1.4" fill="#b4b4b4"/>
<rect x="408.1" y="540.6" width="2.2" height="2" fill="#000"/>
<rect x="405.7" y="540.8" width="2.4" height="1.4" fill="#b4b4b4"/>
<rect x="398.3" y="553.5" width="2.2" height="2" fill="#000"/>
<rect x="395.9" y="553.7" width="2.4" height="1.4" fill="#b4b4b4"/>
<rect x="391.6" y="559" width="2.2" height="2" fill="#000"/>
<rect x="389.2" y="559.2" width="2.4" height="1.4" fill="#b4b4b4"/>
<path d="M941.25 516 L941.25 575 L877.25 635.16 L877.25 576.16 Z" stroke="#000" stroke-width="1.0" fill="#fff" />
<path d="M941.25 516 L939.91 513.85 L938.26 514.15 L873.65 576.16 L877.25 576.16 Z" stroke="#000" stroke-width="1.0" fill="#fff" />
<path d="M873.65 576.16 L873.65 635.56 L877.25 635.16 L877.25 576.16 Z" stroke="#000" stroke-width="1.0" fill="#fff" />
<line x1="937.85" y1="521" x2="937.85" y2="571" stroke="#b8b8b8" stroke-width="1" stroke-dasharray="9 3"/>
<line x1="937.75" y1="574" x2="883.25" y2="630.66" stroke="#b8b8b8" stroke-width="0.9" stroke-dasharray="14 4"/>
<rect x="917.3" y="544.5" width="2.2" height="2" fill="#000"/>
<rect x="914.9" y="544.7" width="2.4" height="1.4" fill="#b4b4b4"/>
<rect x="898.6" y="561.8" width="2.2" height="2" fill="#000"/>
<rect x="896.2" y="562" width="2.4" height="1.4" fill="#b4b4b4"/>
<rect x="879.8" y="579.5" width="2.2" height="2" fill="#000"/>
<rect x="877.4" y="579.7" width="2.4" height="1.4" fill="#b4b4b4"/>
<rect x="917.3" y="583.8" width="2.2" height="2" fill="#000"/>
<rect x="914.9" y="584" width="2.4" height="1.4" fill="#b4b4b4"/>
<rect x="898.6" y="601.3" width="2.2" height="2" fill="#000"/>
<rect x="896.2" y="601.5" width="2.4" height="1.4" fill="#b4b4b4"/>
<rect x="884.8" y="613.8" width="2.2" height="2" fill="#000"/>
<rect x="882.4" y="614" width="2.4" height="1.4" fill="#b4b4b4"/>
<line x1="935.08" y1="520.61" x2="938.92" y2="517.39" stroke="#1e78e6" stroke-width="2.4" stroke-linecap="round" shape-rendering="geometricPrecision"/>
<line x1="934.08" y1="529.61" x2="937.92" y2="526.39" stroke="#0000b0" stroke-width="2.4" stroke-linecap="round" shape-rendering="geometricPrecision"/>
<line x1="935.08" y1="552.61" x2="938.92" y2="549.39" stroke="#1e78e6" stroke-width="2.4" stroke-linecap="round" shape-rendering="geometricPrecision"/>
<line x1="934.08" y1="578.61" x2="937.92" y2="575.39" stroke="#0000b0" stroke-width="2.4" stroke-linecap="round" shape-rendering="geometricPrecision"/>
<line x1="935.08" y1="583.61" x2="938.92" y2="580.39" stroke="#1e78e6" stroke-width="2.4" stroke-linecap="round" shape-rendering="geometricPrecision"/>
<line x1="936.5" y1="525" x2="936.5" y2="575" stroke="#b8b8b8" stroke-width="0.9" stroke-dasharray="10 3"/>
<line x1="420" y1="577" x2="356.25" y2="637.75" stroke="#000" stroke-width="1.1" />
<line x1="356.25" y1="637.75" x2="680" y2="677.75" stroke="#000" stroke-width="2.0" />
<line x1="680" y1="677.75" x2="712" y2="647.3" stroke="#000" stroke-width="1.6" />
<line x1="712" y1="647.3" x2="743.75" y2="617" stroke="#a8a8a8" stroke-width="1.2" />
<line x1="420" y1="577" x2="432" y2="580" stroke="#000" stroke-width="1.1" />
<line x1="432" y1="580" x2="743.75" y2="617" stroke="#a8a8a8" stroke-width="1.2" />
<path d="M432 553.6 L763 594 L763 655.3 L432 614.8 Z" stroke="#000" stroke-width="1" fill="none" />
<line x1="432" y1="553.6" x2="763" y2="594" stroke="#000" stroke-width="2.0" />
<line x1="763" y1="594" x2="763" y2="655.3" stroke="#000" stroke-width="1.7" />
<line x1="432" y1="553.6" x2="432" y2="614.8" stroke="#000" stroke-width="1.3" />
<line x1="432" y1="614.8" x2="763" y2="655.3" stroke="#000" stroke-width="1.1" />
<g shape-rendering="geometricPrecision">
<line x1="539" y1="542.5" x2="853" y2="580.71" stroke="#b2b2b2" stroke-width="1.3" stroke-dasharray="13 4" stroke-dashoffset="0"/>
<line x1="539" y1="546.5" x2="853" y2="584.71" stroke="#b2b2b2" stroke-width="1.3" stroke-dasharray="13 4" stroke-dashoffset="5"/>
<line x1="529" y1="549.28" x2="853" y2="588.71" stroke="#b2b2b2" stroke-width="1.3" stroke-dasharray="13 4" stroke-dashoffset="10"/>
<line x1="529" y1="553.28" x2="853" y2="592.71" stroke="#b2b2b2" stroke-width="1.3" stroke-dasharray="13 4" stroke-dashoffset="15"/>
<path d="M528 550.3 L538.5 541.8 L541 542.3" stroke="#b2b2b2" stroke-width="1.1" fill="none" />
<line x1="528" y1="550.3" x2="528" y2="554" stroke="#b2b2b2" stroke-width="1.4" />
<line x1="462" y1="579.68" x2="806" y2="621.54" stroke="#b2b2b2" stroke-width="1.3" stroke-dasharray="13 4" stroke-dashoffset="0"/>
<line x1="462" y1="583.38" x2="806" y2="625.24" stroke="#b2b2b2" stroke-width="1.3" stroke-dasharray="13 4" stroke-dashoffset="6"/>
<line x1="462" y1="587.38" x2="806" y2="629.24" stroke="#b2b2b2" stroke-width="1.3" stroke-dasharray="13 4" stroke-dashoffset="12"/>
<line x1="610" y1="538.8" x2="550" y2="599.72" stroke="#b2b2b2" stroke-width="1.2" stroke-dasharray="16 3"/>
<line x1="606.8" y1="539.12" x2="546.8" y2="600.04" stroke="#b2b2b2" stroke-width="1.2" stroke-dasharray="16 3"/>
<line x1="603.6" y1="539.44" x2="543.6" y2="600.36" stroke="#b2b2b2" stroke-width="1.2" stroke-dasharray="16 3"/>
<path d="M601 540.8 L609 533.3 Q612 531.8 612.5 535.8 L612.5 543.8 L609 546.8" stroke="#b2b2b2" stroke-width="1.3" fill="none" />
<path d="M544 595.72 L544 606.22 L548 606.72 L555 599.72" stroke="#b2b2b2" stroke-width="1.0" fill="none" />
<line x1="548" y1="596.72" x2="548" y2="606.72" stroke="#b2b2b2" stroke-width="0.9" />
<line x1="776" y1="559.5" x2="716" y2="620.42" stroke="#b2b2b2" stroke-width="1.2" stroke-dasharray="16 3"/>
<line x1="772.8" y1="559.82" x2="712.8" y2="620.74" stroke="#b2b2b2" stroke-width="1.2" stroke-dasharray="16 3"/>
<line x1="769.6" y1="560.14" x2="709.6" y2="621.06" stroke="#b2b2b2" stroke-width="1.2" stroke-dasharray="16 3"/>
<path d="M767 561.5 L775 554 Q778 552.5 778.5 556.5 L778.5 564.5 L775 567.5" stroke="#b2b2b2" stroke-width="1.3" fill="none" />
<path d="M710 616.42 L710 626.92 L714 627.42 L721 620.42" stroke="#b2b2b2" stroke-width="1.0" fill="none" />
<line x1="714" y1="617.42" x2="714" y2="627.42" stroke="#b2b2b2" stroke-width="0.9" />
<line x1="518.6" y1="564" x2="518.6" y2="583" stroke="#a8a8a8" stroke-width="1.4" />
<line x1="518.6" y1="583" x2="531" y2="584.3" stroke="#a8a8a8" stroke-width="1.4" />
<line x1="521" y1="572" x2="523" y2="570" stroke="#a8a8a8" stroke-width="1.2" />
<path d="M519 526 Q524 517 540 515.5 L567 518.5 Q570.5 519.5 570 522 L568 524.5 L546 522 Q532 521.5 524 531 Z" stroke="#b2b2b2" stroke-width="1.7" fill="none" />
<path d="M552 518.5 L564 520 M553 521 L564 522.3" stroke="#b2b2b2" stroke-width="1.3" fill="none" />
<line x1="473" y1="571.6" x2="482.3" y2="561.5" stroke="#b2b2b2" stroke-width="2.6" />
<path d="M476.6 572.3 L481.6 574.9 L504.6 576.7 Q507 577.5 506.6 580.6 Q506.4 583.5 504.6 584.2 L483.8 581.7 Q480 578 476.6 572.3 Z" stroke="#b2b2b2" stroke-width="1.4" fill="none" />
<circle cx="485.6" cy="579.5" r="1.7" fill="#b2b2b2" shape-rendering="geometricPrecision"/>
<circle cx="502.1" cy="580.8" r="1.7" fill="#b2b2b2" shape-rendering="geometricPrecision"/>
<line x1="491.68" y1="567.08" x2="495.92" y2="569.72" stroke="#b2b2b2" stroke-width="1.4" stroke-linecap="round" shape-rendering="geometricPrecision"/>
<path d="M818 550.5 L842 553 Q846 553.5 846 556 L851 561 L853 566 L846 574 L842 571 L842 565 L838 561 L822 558 Q818 557 818 554 Z" stroke="#b2b2b2" stroke-width="1.6" fill="none" />
<path d="M823 553.5 L830 554.5 M834 556 L842 557" stroke="#b2b2b2" stroke-width="1.6" fill="none" />
<line x1="846" y1="574" x2="855" y2="563" stroke="#b2b2b2" stroke-width="1.6" />
<path d="M754.5 609 L762 607.5 L778 610 L801 608 L804.7 600.5 L807.6 602 L807.6 606.6 L799 616.5 L797.5 611.5 L778 613.5 L762 612.5 Z" stroke="#b2b2b2" stroke-width="1.3" fill="none" />
<line x1="778" y1="611.6" x2="800" y2="609.6" stroke="#b2b2b2" stroke-width="2.4" />
<path d="M803 601.5 L807.4 602.3 L807.4 606.4 L804 606 Z" stroke="none" stroke-width="0" fill="#b2b2b2" />
<line x1="773" y1="605" x2="790" y2="603.6" stroke="#b2b2b2" stroke-width="1.1" />
<path d="M763.6 613.6 L766.5 613.7 L768.2 617 L778.6 618 L780.6 616 L779 614.6 L768 613.8" stroke="#000" stroke-width="1.2" fill="none" />
<circle cx="774.6" cy="615.8" r="1.2" fill="#000" shape-rendering="geometricPrecision"/>
<rect x="759.6" y="603.8" width="2.8" height="2.8" fill="#000"/>
<rect x="751.2" y="617.9" width="1.7" height="1.6" fill="#000"/>
<path d="M857 581 L867.5 583.5 L868 585.5 L860 595.5 L857 595.5" stroke="#000" stroke-width="1.1" fill="none" />
<path d="M451 610.0 L453 606.5 L455 610.0 Z" stroke="#b2b2b2" stroke-width="0.5" fill="#b2b2b2" />
<path d="M467 612.0 L469 608.5 L471 612.0 Z" stroke="#b2b2b2" stroke-width="0.5" fill="#b2b2b2" />
<line x1="434.5" y1="563.5" x2="437.5" y2="563.5" stroke="#b2b2b2" stroke-width="1.4" stroke-linecap="round" shape-rendering="geometricPrecision"/>
<line x1="739.5" y1="600" x2="742.5" y2="600" stroke="#b2b2b2" stroke-width="1.4" stroke-linecap="round" shape-rendering="geometricPrecision"/>
<line x1="720.5" y1="641" x2="723.5" y2="641" stroke="#b2b2b2" stroke-width="1.4" stroke-linecap="round" shape-rendering="geometricPrecision"/>
<line x1="740.5" y1="643" x2="743.5" y2="643" stroke="#b2b2b2" stroke-width="1.4" stroke-linecap="round" shape-rendering="geometricPrecision"/>
<line x1="853.5" y1="559" x2="856.5" y2="559" stroke="#b2b2b2" stroke-width="1.4" stroke-linecap="round" shape-rendering="geometricPrecision"/>
<line x1="853.5" y1="571" x2="856.5" y2="571" stroke="#b2b2b2" stroke-width="1.4" stroke-linecap="round" shape-rendering="geometricPrecision"/>
<line x1="853.5" y1="608" x2="856.5" y2="608" stroke="#b2b2b2" stroke-width="1.4" stroke-linecap="round" shape-rendering="geometricPrecision"/>
<line x1="732.88" y1="631.12" x2="737.12" y2="626.88" stroke="#b2b2b2" stroke-width="1.0" stroke-linecap="round" shape-rendering="geometricPrecision"/>
<line x1="743.88" y1="620.12" x2="748.12" y2="615.88" stroke="#b2b2b2" stroke-width="1.0" stroke-linecap="round" shape-rendering="geometricPrecision"/>
<line x1="720.88" y1="642.12" x2="725.12" y2="637.88" stroke="#b2b2b2" stroke-width="1.0" stroke-linecap="round" shape-rendering="geometricPrecision"/>
</g>
<path d="M323.75 741.5 L330 734 L656.25 775.25 L650 782.75 Z" stroke="#000" stroke-width="0.9" fill="#fff" />
<line x1="323.75" y1="741.5" x2="650" y2="782.75" stroke="#000" stroke-width="2.0" />
<line x1="489.32" y1="471.88" x2="493.18" y2="472.92" stroke="#0000c0" stroke-width="1.8" stroke-linecap="round" shape-rendering="geometricPrecision"/>
<line x1="470.5" y1="489.75" x2="474.5" y2="489.75" stroke="#0000c0" stroke-width="1.8" stroke-linecap="round" shape-rendering="geometricPrecision"/>
<line x1="452.5" y1="507.75" x2="456.5" y2="507.75" stroke="#0000c0" stroke-width="1.8" stroke-linecap="round" shape-rendering="geometricPrecision"/>
<line x1="489.25" y1="512.25" x2="493.25" y2="512.25" stroke="#0000c0" stroke-width="1.8" stroke-linecap="round" shape-rendering="geometricPrecision"/>
<line x1="471" y1="529.75" x2="475" y2="529.75" stroke="#0000c0" stroke-width="1.8" stroke-linecap="round" shape-rendering="geometricPrecision"/>
<line x1="433" y1="525.25" x2="437" y2="525.25" stroke="#0000c0" stroke-width="1.8" stroke-linecap="round" shape-rendering="geometricPrecision"/>
<line x1="451.82" y1="546.73" x2="455.68" y2="547.77" stroke="#0000c0" stroke-width="1.8" stroke-linecap="round" shape-rendering="geometricPrecision"/>
<line x1="770" y1="348.2" x2="774" y2="348.2" stroke="#0000c0" stroke-width="1.8" stroke-linecap="round" shape-rendering="geometricPrecision"/>
<line x1="726.5" y1="390.2" x2="730.5" y2="390.2" stroke="#0000c0" stroke-width="1.8" stroke-linecap="round" shape-rendering="geometricPrecision"/>
<line x1="703.8" y1="410.7" x2="707.8" y2="410.7" stroke="#0000c0" stroke-width="1.8" stroke-linecap="round" shape-rendering="geometricPrecision"/>
<line x1="1036.8" y1="380.6" x2="1040.8" y2="380.6" stroke="#0000c0" stroke-width="1.8" stroke-linecap="round" shape-rendering="geometricPrecision"/>
<line x1="1014.4" y1="401.8" x2="1018.4" y2="401.8" stroke="#0000c0" stroke-width="1.8" stroke-linecap="round" shape-rendering="geometricPrecision"/>
<line x1="991.8" y1="423.1" x2="995.8" y2="423.1" stroke="#0000c0" stroke-width="1.8" stroke-linecap="round" shape-rendering="geometricPrecision"/>
<line x1="969.9" y1="443.9" x2="973.9" y2="443.9" stroke="#0000c0" stroke-width="1.8" stroke-linecap="round" shape-rendering="geometricPrecision"/>
<line x1="868.78" y1="538.9" x2="872.72" y2="539.6" stroke="#0000c0" stroke-width="1.8" stroke-linecap="round" shape-rendering="geometricPrecision"/>
<line x1="868.78" y1="579.4" x2="872.72" y2="580.1" stroke="#0000c0" stroke-width="1.8" stroke-linecap="round" shape-rendering="geometricPrecision"/>
<line x1="888" y1="522.25" x2="892" y2="522.25" stroke="#0000c0" stroke-width="1.8" stroke-linecap="round" shape-rendering="geometricPrecision"/>
<line x1="829.19" y1="332.22" x2="831.81" y2="330.38" stroke="#0000c0" stroke-width="1.8" stroke-linecap="round" shape-rendering="geometricPrecision"/>
<line x1="717.19" y1="437.22" x2="719.81" y2="435.38" stroke="#0000c0" stroke-width="1.8" stroke-linecap="round" shape-rendering="geometricPrecision"/>
<line x1="782.29" y1="445.42" x2="784.91" y2="443.58" stroke="#0000c0" stroke-width="1.8" stroke-linecap="round" shape-rendering="geometricPrecision"/>
<line x1="847.69" y1="453.52" x2="850.31" y2="451.68" stroke="#0000c0" stroke-width="1.8" stroke-linecap="round" shape-rendering="geometricPrecision"/>
<line x1="959.49" y1="348.12" x2="962.11" y2="346.28" stroke="#0000c0" stroke-width="1.8" stroke-linecap="round" shape-rendering="geometricPrecision"/>
<line x1="1024.29" y1="356.62" x2="1026.91" y2="354.78" stroke="#0000c0" stroke-width="1.8" stroke-linecap="round" shape-rendering="geometricPrecision"/>
<line x1="912.52" y1="461.53" x2="914.98" y2="459.47" stroke="#0000c0" stroke-width="1.8" stroke-linecap="round" shape-rendering="geometricPrecision"/>
<line x1="518.16" y1="469.79" x2="521.84" y2="467.21" stroke="#1e78e6" stroke-width="2.6" stroke-linecap="round" shape-rendering="geometricPrecision"/>
<line x1="516.16" y1="477.29" x2="519.84" y2="474.71" stroke="#0000c0" stroke-width="2.6" stroke-linecap="round" shape-rendering="geometricPrecision"/>
<line x1="517.66" y1="500.79" x2="521.34" y2="498.21" stroke="#1e78e6" stroke-width="2.6" stroke-linecap="round" shape-rendering="geometricPrecision"/>
<line x1="515.66" y1="526.54" x2="519.34" y2="523.96" stroke="#0000c0" stroke-width="2.6" stroke-linecap="round" shape-rendering="geometricPrecision"/>
<line x1="515.66" y1="532.79" x2="519.34" y2="530.21" stroke="#1e78e6" stroke-width="2.6" stroke-linecap="round" shape-rendering="geometricPrecision"/>
<line x1="583.66" y1="490.04" x2="587.34" y2="486.96" stroke="#e00000" stroke-width="2.3" stroke-linecap="round" shape-rendering="geometricPrecision"/>
<line x1="584.41" y1="505.54" x2="588.09" y2="502.46" stroke="#e00000" stroke-width="2.3" stroke-linecap="round" shape-rendering="geometricPrecision"/>
<line x1="829.91" y1="520.79" x2="833.59" y2="517.71" stroke="#e00000" stroke-width="2.3" stroke-linecap="round" shape-rendering="geometricPrecision"/>
<line x1="829.91" y1="535.79" x2="833.59" y2="532.71" stroke="#e00000" stroke-width="2.3" stroke-linecap="round" shape-rendering="geometricPrecision"/>
<line x1="907.46" y1="467.54" x2="911.14" y2="464.46" stroke="#e00000" stroke-width="2.3" stroke-linecap="round" shape-rendering="geometricPrecision"/>
<line x1="907.41" y1="507.04" x2="911.09" y2="503.96" stroke="#e00000" stroke-width="2.3" stroke-linecap="round" shape-rendering="geometricPrecision"/>
<line x1="414.66" y1="582.54" x2="418.34" y2="579.46" stroke="#e00000" stroke-width="2.3" stroke-linecap="round" shape-rendering="geometricPrecision"/>
<line x1="414.66" y1="622.54" x2="418.34" y2="619.46" stroke="#e00000" stroke-width="2.3" stroke-linecap="round" shape-rendering="geometricPrecision"/>
<line x1="522.16" y1="637.04" x2="525.84" y2="633.96" stroke="#e00000" stroke-width="2.3" stroke-linecap="round" shape-rendering="geometricPrecision"/>
<line x1="635.16" y1="651.54" x2="638.84" y2="648.46" stroke="#e00000" stroke-width="2.3" stroke-linecap="round" shape-rendering="geometricPrecision"/>
<line x1="740.66" y1="623.04" x2="744.34" y2="619.96" stroke="#e00000" stroke-width="2.3" stroke-linecap="round" shape-rendering="geometricPrecision"/>
<line x1="740.16" y1="662.54" x2="743.84" y2="659.46" stroke="#e00000" stroke-width="2.3" stroke-linecap="round" shape-rendering="geometricPrecision"/>
<path d="M674.5 332 L679 332 L679 334.5 L674.5 334.5 Z M679 333 L686 334" stroke="#e00000" stroke-width="1.1" fill="none" />
<circle cx="683" cy="347.7" r="1.6" fill="#000" shape-rendering="geometricPrecision"/>
<rect x="681" y="352.6" width="4" height="2.8" fill="#000"/>
<rect x="636" y="393" width="3" height="3" fill="#000"/>
<rect x="636" y="398" width="3" height="3" fill="#000"/>
<circle cx="446.25" cy="550.25" r="1.2" fill="#00d000" shape-rendering="geometricPrecision"/>
<circle cx="600.75" cy="568.5" r="1.2" fill="#00d000" shape-rendering="geometricPrecision"/>
<circle cx="598.75" cy="574" r="1.2" fill="#00d000" shape-rendering="geometricPrecision"/>
<circle cx="755" cy="588" r="1.2" fill="#00d000" shape-rendering="geometricPrecision"/>
<circle cx="752" cy="593.5" r="1.2" fill="#00d000" shape-rendering="geometricPrecision"/>
<circle cx="993" cy="408" r="1.2" fill="#00d000" shape-rendering="geometricPrecision"/>
<circle cx="1093" cy="398.75" r="1.6" stroke="#000" stroke-width="0.9" fill="#fff" shape-rendering="geometricPrecision"/>
<path d="M332.5 34.5 L365 34.5 L872 395.6" stroke="#000" stroke-width="1" fill="none" />
<circle cx="872" cy="395.6" r="1.8" stroke="#000" stroke-width="1.0" fill="#fff" shape-rendering="geometricPrecision"/>
<path d="M502.5 34.5 L535 34.5 L871.9 385" stroke="#000" stroke-width="1" fill="none" />
<circle cx="871.9" cy="385" r="1.8" stroke="#000" stroke-width="1.0" fill="#fff" shape-rendering="geometricPrecision"/>
<path d="M672.5 34.5 L705.5 34.5 L903.4 360.4" stroke="#000" stroke-width="1" fill="none" />
<circle cx="903.4" cy="360.4" r="1.8" stroke="#000" stroke-width="1.0" fill="#fff" shape-rendering="geometricPrecision"/>
<path d="M842.5 34.5 L875.5 34.5 L1051.25 418.1" stroke="#000" stroke-width="1" fill="none" />
<circle cx="1051.25" cy="418.1" r="1.8" stroke="#000" stroke-width="1.0" fill="#fff" shape-rendering="geometricPrecision"/>
<path d="M1063.75 34.5 L1045 34.5 L988.75 194.5" stroke="#000" stroke-width="1" fill="none" />
<circle cx="988.75" cy="194.5" r="1.8" stroke="#000" stroke-width="1.0" fill="#fff" shape-rendering="geometricPrecision"/>
<path d="M1233.75 34.5 L1215 34.5 L1098.75 406.9" stroke="#000" stroke-width="1" fill="none" />
<circle cx="1098.75" cy="406.9" r="1.8" stroke="#000" stroke-width="1.0" fill="#fff" shape-rendering="geometricPrecision"/>
<path d="M1418.75 34.5 L1385.5 34.5 L1280.5 245" stroke="#000" stroke-width="1" fill="none" />
<circle cx="1280.5" cy="245" r="1.8" stroke="#000" stroke-width="1.0" fill="#fff" shape-rendering="geometricPrecision"/>
<path d="M1658.75 113.5 L1639.5 113.5 L726.25 481.5" stroke="#000" stroke-width="1" fill="none" />
<circle cx="726.25" cy="481.5" r="1.8" stroke="#000" stroke-width="1.0" fill="#fff" shape-rendering="geometricPrecision"/>
<path d="M1673.75 271.5 L1638.75 271.5 L799.5 463.5" stroke="#000" stroke-width="1" fill="none" />
<circle cx="799.5" cy="463.5" r="1.8" stroke="#000" stroke-width="1.0" fill="#fff" shape-rendering="geometricPrecision"/>
<path d="M1658.75 429.5 L1640 429.5 L1089 452" stroke="#000" stroke-width="1" fill="none" />
<circle cx="1089" cy="452" r="1.8" stroke="#000" stroke-width="1.0" fill="#fff" shape-rendering="geometricPrecision"/>
<path d="M1658.75 588.5 L1640 588.5 L907 573.5" stroke="#000" stroke-width="1" fill="none" />
<circle cx="907" cy="573.5" r="1.8" stroke="#000" stroke-width="1.0" fill="#fff" shape-rendering="geometricPrecision"/>
<path d="M262 331.5 L282 331.5 L588 389.5" stroke="#000" stroke-width="1" fill="none" />
<circle cx="588" cy="389.5" r="1.8" stroke="#000" stroke-width="1.0" fill="#fff" shape-rendering="geometricPrecision"/>
<path d="M247.5 528.5 L282 528.5 L691.6 373.5" stroke="#000" stroke-width="1" fill="none" />
<circle cx="691.6" cy="373.5" r="1.8" stroke="#000" stroke-width="1.0" fill="#fff" shape-rendering="geometricPrecision"/>
<path d="M247.5 726.5 L281.25 726.5 L729.4 361" stroke="#000" stroke-width="1" fill="none" />
<circle cx="729.4" cy="361" r="1.8" stroke="#000" stroke-width="1.0" fill="#fff" shape-rendering="geometricPrecision"/>
<path d="M568.75 825.5 L535 825.5 L489.5 758.25" stroke="#000" stroke-width="1" fill="none" />
<circle cx="489.5" cy="758.25" r="1.8" stroke="#000" stroke-width="1.0" fill="#fff" shape-rendering="geometricPrecision"/>
<path d="M908.75 825.5 L874.5 825.5 L550 627.1" stroke="#000" stroke-width="1" fill="none" />
<circle cx="550" cy="627.1" r="1.8" stroke="#000" stroke-width="1.0" fill="#fff" shape-rendering="geometricPrecision"/>
<path d="M1063.75 825.5 L1044.5 825.5 L596.9 604" stroke="#000" stroke-width="1" fill="none" />
<circle cx="596.9" cy="604" r="1.8" stroke="#000" stroke-width="1.0" fill="#fff" shape-rendering="geometricPrecision"/>
<path d="M1248.75 825.5 L1214.5 825.5 L578.75 570.25" stroke="#000" stroke-width="1" fill="none" />
<circle cx="578.75" cy="570.25" r="1.8" stroke="#000" stroke-width="1.0" fill="#fff" shape-rendering="geometricPrecision"/>
<path d="M1403.75 825.5 L1384.5 825.5 L698.1 568.75" stroke="#000" stroke-width="1" fill="none" />
<circle cx="698.1" cy="568.75" r="1.8" stroke="#000" stroke-width="1.0" fill="#fff" shape-rendering="geometricPrecision"/>
<path d="M1573.75 825.5 L1554.5 825.5 L687.5 562.5" stroke="#000" stroke-width="1" fill="none" />
<circle cx="687.5" cy="562.5" r="1.8" stroke="#000" stroke-width="1.0" fill="#fff" shape-rendering="geometricPrecision"/>
<g shape-rendering="geometricPrecision">
<text x="330.96" y="28.4" class="lb">12</text>
<text x="500.96" y="28.4" class="lb">18</text>
<text x="670.96" y="28.4" class="lb">16</text>
<text x="840.96" y="28.4" class="lb">14</text>
<text x="1050.96" y="28.4" class="lb">1</text>
<text x="1219.87" y="28.4" class="lb">9</text>
<text x="1390.96" y="28.4" class="lb">19</text>
<text x="1644.27" y="107.9" class="lb">6</text>
<text x="1645.96" y="266.4" class="lb">11</text>
<text x="1644.96" y="424.2" class="lb">2</text>
<text x="1644.48" y="582.4" class="lb">7</text>
<text x="261.66" y="325.9" class="lb">3</text>
<text x="246.96" y="522.9" class="lb">13</text>
<text x="246.96" y="721.9" class="lb">10</text>
<text x="538.71" y="820.4" class="lb">20</text>
<text x="879.71" y="820.4" class="lb">17</text>
<text x="1050.19" y="820.4" class="lb">5</text>
<text x="1220.46" y="820.4" class="lb">15</text>
<text x="1390.08" y="820.4" class="lb">8</text>
<text x="1560.38" y="820.4" class="lb">4</text>
</g>
</svg>
</body></html>
